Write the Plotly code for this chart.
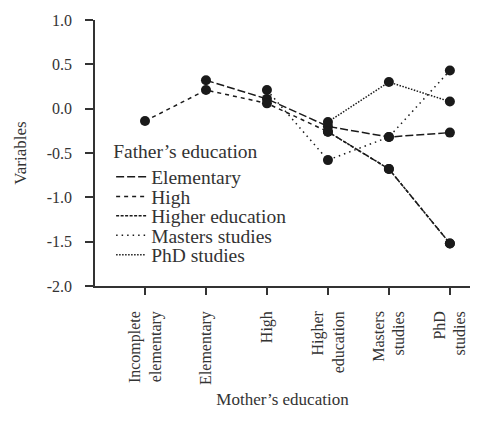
import plotly.graph_objects as go

# mother's education categories (x axis)
categories = ["Incomplete<br>elementary", "Elementary", "High", "Higher<br>education", "Masters<br>studies", "PhD<br>studies"]

# father's education series (None = no point)
series_names = ["Elementary", "High", "Higher education", "Masters studies", "PhD studies"]
elementary = [None, 0.32, 0.11, -0.20, -0.32, -0.27]
high = [-0.14, 0.21, 0.06, -0.26, -0.68, -1.52]
higher_education = [None, None, None, -0.26, -0.68, -1.52]
masters_studies = [None, None, 0.21, -0.58, -0.32, 0.43]
phd_studies = [None, None, None, -0.15, 0.30, 0.08]

y_ticks = [1.0, 0.5, 0.0, -0.5, -1.0, -1.5, -2.0]
y_tick_text = ["1.0", "0.5", "0.0", "-0.5", "-1.0", "-1.5", "-2.0"]

series_values = [elementary, high, higher_education, masters_studies, phd_studies]
dash_styles = ["8px,3px", "4px,4px", "3px,1.5px", "1.5px,4px", "1.5px,1.5px"]
# one legend per entry so the rows can sit closer than plotly's default spacing
legend_ids = ["legend", "legend2", "legend3", "legend4", "legend5"]

ink = "#1a1a1a"
fig = go.Figure()
for name, vals, dash, lg in zip(series_names, series_values, dash_styles, legend_ids):
    fig.add_trace(go.Scatter(
        x=categories, y=vals, name=name, mode="lines+markers",
        line=dict(color=ink, width=1.5, dash=dash),
        marker=dict(color=ink, size=10),
        showlegend=False,
    ))
    # legend entry with just the line style
    fig.add_trace(go.Scatter(
        x=[None], y=[None], name=name, mode="lines",
        line=dict(color=ink, width=1.5, dash=dash),
        legend=lg,
    ))

font_family = "Liberation Serif, Times New Roman, serif"
legend_common = dict(x=0.043, xanchor="left", yanchor="top", bgcolor="rgba(0,0,0,0)",
                     font=dict(size=19.5), itemwidth=30, itemclick=False)
legend_tops = [0.578, 0.409, 0.336, 0.263, 0.190]

fig.update_layout(
    width=493, height=438,
    margin=dict(l=95, r=23, t=14, b=152),
    paper_bgcolor="white", plot_bgcolor="white",
    font=dict(family=font_family, size=16, color="#333"),
    showlegend=True,
    legend=dict(title=dict(text="Father’s education", font=dict(size=19.5)),
                y=legend_tops[0], **legend_common),
    legend2=dict(y=legend_tops[1], **legend_common),
    legend3=dict(y=legend_tops[2], **legend_common),
    legend4=dict(y=legend_tops[3], **legend_common),
    legend5=dict(y=legend_tops[4], **legend_common),
    xaxis=dict(
        type="category", range=[-0.82, 5.33],
        showline=True, linecolor="#333", linewidth=1.5,
        ticks="outside", ticklen=7, tickcolor="#333", tickwidth=1.5,
        tickangle=-90, showgrid=False, zeroline=False,
        ticklabelstandoff=10, tickfont=dict(size=16),
        title=dict(text="Mother’s education", standoff=9, font=dict(size=17)),
    ),
    yaxis=dict(
        range=[-2, 1], tickvals=y_ticks, ticktext=y_tick_text,
        showline=True, linecolor="#333", linewidth=1.5,
        ticks="outside", ticklen=8, tickcolor="#333", tickwidth=1.5,
        showgrid=False, zeroline=False,
        ticklabelstandoff=10, tickfont=dict(size=16),
        title=dict(text="Variables", standoff=16, font=dict(size=17)),
    ),
)

fig.write_html("out.html", config={"displayModeBar": False},
               post_script="document.body.style.margin = '0';")
